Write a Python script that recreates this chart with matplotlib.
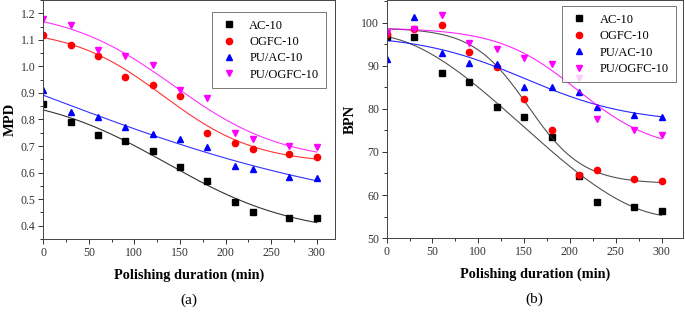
import numpy as np
import matplotlib
matplotlib.use('Agg')
import matplotlib.pyplot as plt
from matplotlib.ticker import MultipleLocator

plt.rcParams['font.family'] = ['Liberation Serif', 'DejaVu Serif']

# polishing time (min)
t = [0, 30, 60, 90, 120, 150, 180, 210, 230, 270, 300]

series = ['AC-10', 'OGFC-10', 'PU/AC-10', 'PU/OGFC-10']

# (a) mean profile depth
mpd_ac = [0.86, 0.79, 0.74, 0.72, 0.68, 0.62, 0.57, 0.49, 0.45, 0.43, 0.43]
mpd_ogfc = [1.12, 1.08, 1.04, 0.96, 0.93, 0.89, 0.75, 0.71, 0.69, 0.67, 0.66]
mpd_puac = [0.91, 0.83, 0.81, 0.77, 0.745, 0.725, 0.695, 0.625, 0.615, 0.585, 0.58]
mpd_puogfc = [1.18, 1.155, 1.06, 1.04, 1.005, 0.91, 0.88, 0.75, 0.725, 0.70, 0.695]

# (b) british pendulum number
bpn_ac = [96.8, 96.7, 88.4, 86.2, 80.4, 78.2, 73.5, 64.4, 58.3, 57.1, 56.2]
bpn_ogfc = [97.5, 98.6, 99.6, 93.2, 89.7, 82.3, 75.0, 64.7, 65.7, 63.8, 63.3]
bpn_puac = [91.7, 101.4, 92.9, 90.6, 90.5, 85.1, 85.1, 83.9, 80.5, 78.6, 78.1]
bpn_puogfc = [97.6, 98.6, 101.7, 95.2, 94.0, 91.8, 90.4, 87.2, 77.6, 75.0, 73.9]

colors = ['black', 'red', 'blue', '#ff00ff']
markers = ['s', 'o', '^', 'v']


def boltz_fit(x, y):
    # brute force Boltzmann fit y = a + b / (1 + exp((x - x0) / dx))
    x = np.asarray(x, float)
    y = np.asarray(y, float)
    x0 = np.arange(0, 400, 1.0)[:, None, None]
    dx = np.arange(5, 200, 1.0)[None, :, None]
    s = 1.0 / (1.0 + np.exp((x - x0) / dx))
    sm = s.mean(axis=2, keepdims=True)
    ym = y.mean()
    b = ((s - sm) * (y - ym)).sum(axis=2, keepdims=True) / ((s - sm) ** 2).sum(axis=2, keepdims=True)
    a = ym - b * sm
    sse = ((y - a - b * s) ** 2).sum(axis=2)
    i, j = np.unravel_index(np.argmin(sse), sse.shape)
    p = (a[i, j, 0], b[i, j, 0], x0[i, 0, 0], dx[0, j, 0])
    return lambda xx: p[0] + p[1] / (1.0 + np.exp((xx - p[2]) / p[3]))


def poly_fit(x, y, deg=3):
    c = np.polyfit(x, y, deg)
    return lambda xx: np.polyval(c, xx)


fig = plt.figure(figsize=(6.85, 3.12), dpi=100)
ax1 = fig.add_axes([0.063, 0.234, 0.426, 0.766])
ax2 = fig.add_axes([0.5645, 0.237, 0.432, 0.763])

xx = np.linspace(0, 300, 301)

data_a = [mpd_ac, mpd_ogfc, mpd_puac, mpd_puogfc]
fits_a = [boltz_fit, boltz_fit, boltz_fit, boltz_fit]
for y, f, c, m, lab in zip(data_a, fits_a, colors, markers, series):
    ax1.plot(xx, f(t, y)(xx), color=c, lw=0.8, alpha=0.8)
    ax1.plot(t, y, ls='none', marker=m, color=c, ms=4.5, label=lab)

data_b = [bpn_ac, bpn_ogfc, bpn_puac, bpn_puogfc]
fits_b = [poly_fit, boltz_fit, boltz_fit, boltz_fit]
line_cols_b = ['#333333', '#333333', 'blue', '#ff00ff']
for y, f, lc, c, m, lab in zip(data_b, fits_b, line_cols_b, colors, markers, series):
    ax2.plot(xx, f(t, y)(xx), color=lc, lw=0.8, alpha=0.85)
    ax2.plot(t, y, ls='none', marker=m, color=c, ms=4.5, label=lab)

ax1.set_xlim(0, 320)
ax1.set_ylim(0.35, 1.25)
ax1.yaxis.set_major_locator(MultipleLocator(0.1))
ax1.yaxis.set_minor_locator(MultipleLocator(0.05))
ax1.set_ylabel('MPD', fontsize=10.5, fontweight='bold', labelpad=3)

ax2.set_xlim(0, 323)
ax2.set_ylim(50, 105.3)
ax2.yaxis.set_major_locator(MultipleLocator(10))
ax2.yaxis.set_minor_locator(MultipleLocator(5))
ax2.set_ylabel('BPN', fontsize=10.5, fontweight='bold', labelpad=3)

for ax, tag, anchor in [(ax1, '(a)', (0.99, 0.975)), (ax2, '(b)', (1.0, 1.0))]:
    ax.xaxis.set_major_locator(MultipleLocator(50))
    ax.xaxis.set_minor_locator(MultipleLocator(25))
    ax.tick_params(which='both', direction='out', labelsize=8.5, width=0.7, colors='#333333')
    ax.tick_params(which='major', length=3.5, pad=2)
    ax.tick_params(which='minor', length=2)
    for sp in ax.spines.values():
        sp.set_linewidth(0.7)
        sp.set_color('#444444')
    ax.set_xlabel('Polishing duration (min)', fontsize=10.3, fontweight='bold', labelpad=7)
    ax.text(0.5, -0.255, tag, transform=ax.transAxes, ha='center', va='center', fontsize=11)
    leg = ax.legend(loc='upper right', fontsize=9, frameon=True, fancybox=False,
                    handletextpad=0.9, borderpad=0.6, labelspacing=0.35,
                    handlelength=1.5, bbox_to_anchor=anchor)
    leg.get_frame().set_edgecolor('#555555')
    leg.get_frame().set_linewidth(0.7)

fig.savefig('out.png', dpi=100)
